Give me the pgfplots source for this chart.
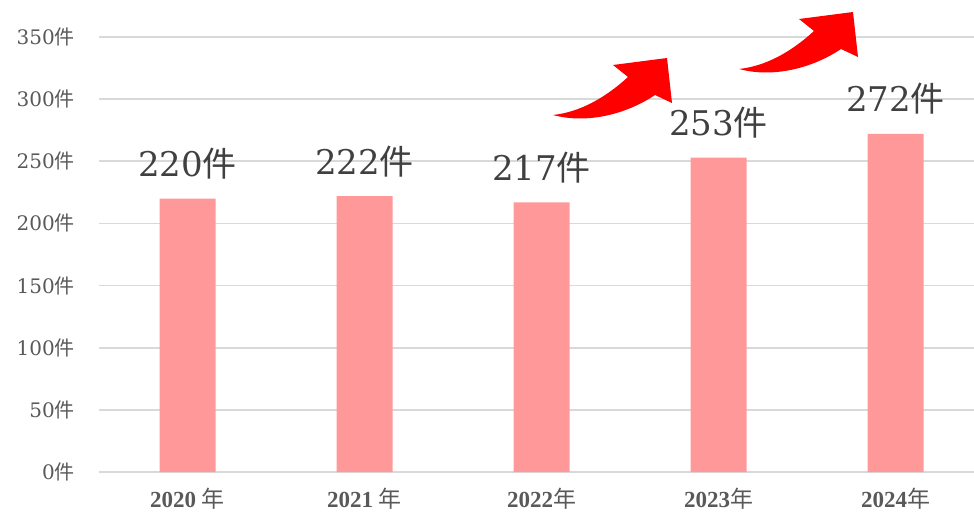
\documentclass[border=0pt]{standalone}
\usepackage{fontspec}
\usepackage{pgfplots}
\pgfplotsset{compat=1.18}
\newfontfamily\numfont{DejaVu Serif}
\newfontfamily\xfont{Liberation Serif}
\newfontfamily\cjk{Noto Sans CJK JP}
\definecolor{barpink}{HTML}{FF9999}
\definecolor{gridgray}{HTML}{D9D9D9}
\definecolor{ticktext}{HTML}{595959}
\definecolor{labeltext}{HTML}{404040}
\pgfplotstableread{
x y
0 220
1 222
2 217
3 253
4 272
}\datatable
\begin{document}
\begin{tikzpicture}
\begin{axis}[
  at={(99pt,-472pt)}, anchor=south west,
  width=875pt, height=435pt, scale only axis,
  xmin=-0.5, xmax=4.4435, ymin=0, ymax=350,
  enlargelimits=false, clip=false,
  axis line style={draw=none},
  major tick length=0pt,
  ymajorgrids, grid style={draw=gridgray, line width=1.6pt},
  ytick={0,50,100,150,200,250,300,350},
  yticklabels={0{\cjk 件},50{\cjk 件},100{\cjk 件},150{\cjk 件},200{\cjk 件},250{\cjk 件},300{\cjk 件},350{\cjk 件}},
  yticklabel style={font=\numfont\fontsize{20}{24}\selectfont, text=ticktext, anchor=east, inner sep=0pt, xshift=-24pt},
  xtick={0,1,2,3,4},
  xticklabels={2020 {\cjk\mdseries 年},2021 {\cjk\mdseries 年},2022{\cjk\mdseries 年},2023{\cjk\mdseries 年},2024{\cjk\mdseries 年}},
  xticklabel style={font=\xfont\bfseries\fontsize{23}{26}\selectfont, text=ticktext, anchor=north, inner sep=0pt, yshift=-16pt},
  /pgf/number format/assume math mode=true,
]
\addplot[ybar, bar width=56pt, fill=barpink, draw=none,
  point meta=y,
  nodes near coords={\numfont\pgfmathprintnumber{\pgfplotspointmeta}{\cjk 件}},
  every node near coord/.append style={font=\fontsize{34}{40}\selectfont, text=labeltext, anchor=base, inner sep=0pt, yshift=22pt},
] table[x=x, y=y] {\datatable};
\end{axis}
\begin{scope}[x=1pt, y=-1pt]
\fill[red] (553,115) .. controls (590,125) and (630,112) .. (655,95) -- (672,103) -- (667,58) -- (613,65) -- (628,77) .. controls (605,98) and (580,112) .. (553,115) -- cycle;
\begin{scope}[shift={(186,-46)}]
\fill[red] (553,115) .. controls (590,125) and (630,112) .. (655,95) -- (672,103) -- (667,58) -- (613,65) -- (628,77) .. controls (605,98) and (580,112) .. (553,115) -- cycle;
\end{scope}
\end{scope}
\pgfresetboundingbox
\path[use as bounding box] (0pt,0pt) rectangle (974pt,-514pt);
\end{tikzpicture}
\end{document}
